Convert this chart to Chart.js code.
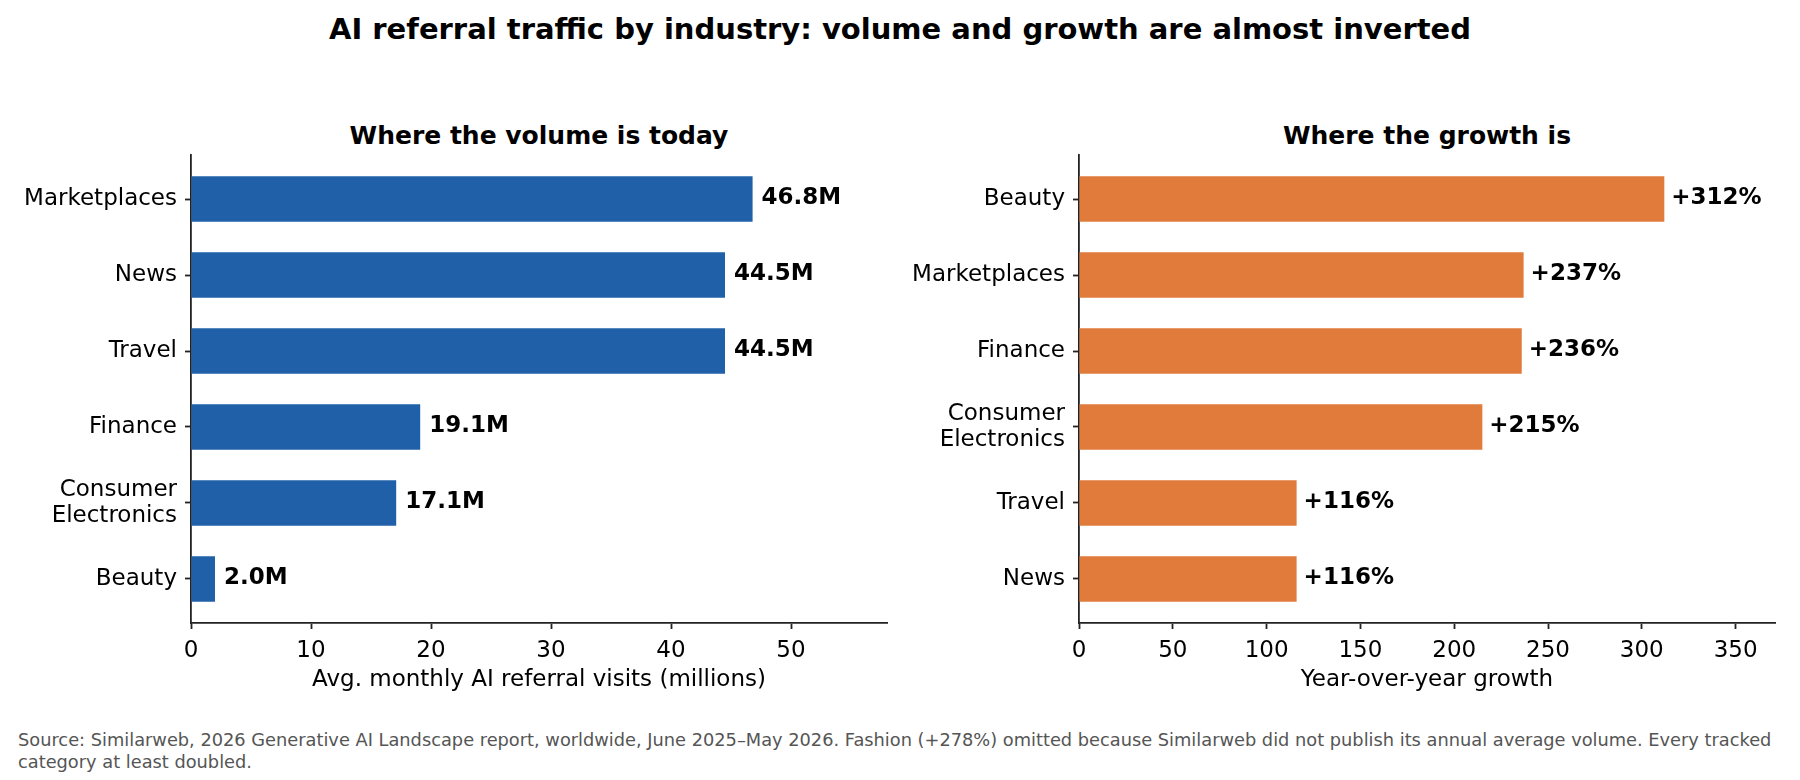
<!DOCTYPE html>
<html>
<head>
<meta charset="utf-8">
<script src="https://cdn.jsdelivr.net/npm/chart.js@4.4.1/dist/chart.umd.min.js"></script>
<style>
  body { margin: 0; width: 1800px; height: 780px; background: #fff; position: relative; overflow: hidden;
         font-family: 'DejaVu Sans', sans-serif; color: #000; }
  #title { position: absolute; left: 0; width: 1800px; top: 11px; line-height: 36px; text-align: center;
           font-size: 29px; font-weight: bold; }
  .sub { position: absolute; top: 121px; line-height: 30px; text-align: center; font-size: 25px; font-weight: bold; }
  .box { position: absolute; top: 140px; width: 900px; height: 560px; }
  #note { position: absolute; left: 18px; top: 729px; font-size: 17.8px; line-height: 21.5px; color: #555; white-space: nowrap; }
</style>
</head>
<body>
<div id="title">AI referral traffic by industry: volume and growth are almost inverted</div>
<div class="sub" style="left:191px;width:696px">Where the volume is today</div>
<div class="sub" style="left:1079px;width:696px">Where the growth is</div>
<div class="box" style="left:0"><canvas id="volume"></canvas></div>
<div class="box" style="left:900px"><canvas id="growth"></canvas></div>
<div id="note">Source: Similarweb, 2026 Generative AI Landscape report, worldwide, June 2025–May 2026. Fashion (+278%) omitted because Similarweb did not publish its annual average volume. Every tracked<br>category at least doubled.</div>

<script>
// volume panel, top to bottom
const volumeLabels = ['Marketplaces', 'News', 'Travel', 'Finance', ['Consumer', 'Electronics'], 'Beauty'];
const volumeValues = [46.8, 44.5, 44.5, 19.1, 17.1, 2.0];

// growth panel, top to bottom (% year over year)
const growthLabels = ['Beauty', 'Marketplaces', 'Finance', ['Consumer', 'Electronics'], 'Travel', 'News'];
const growthValues = [312, 237, 236, 215, 116, 116];

const volumeTicks = [0, 10, 20, 30, 40, 50];
const growthTicks = [0, 50, 100, 150, 200, 250, 300, 350];

const FONT = 'DejaVu Sans';
const AXIS = '#222';

// writes the value just past the end of each bar
const barLabels = {
    id: 'barLabels',
    afterDatasetsDraw(chart, args, opts) {
        const c = chart.ctx;
        const meta = chart.getDatasetMeta(0);
        c.save();
        c.font = 'bold 23px "' + FONT + '"';
        c.fillStyle = '#000';
        c.textAlign = 'left';
        c.textBaseline = 'middle';
        meta.data.forEach((bar, i) => {
            const v = chart.data.datasets[0].data[i].x;
            c.fillText(opts.fmt(v), bar.x + opts.gap, bar.y - 1);
        });
        c.restore();
    }
};

function makeChart(id, labels, values, color, max, ticks, axisTitle, fmt, yWidth, padRight, gap) {
    const tickLine = {
        display: true,
        drawOnChartArea: false,
        drawTicks: true,
        tickLength: 6,
        tickWidth: 1.8,
        tickColor: AXIS,
        offset: false
    };
    return new Chart(document.getElementById(id), {
        type: 'bar',
        data: {
            datasets: [{
                data: values.map((v, i) => ({ x: v, y: i })),
                backgroundColor: color,
                borderWidth: 0,
                barPercentage: 0.6,
                categoryPercentage: 1
            }]
        },
        plugins: [barLabels],
        options: {
            indexAxis: 'y',
            animation: false,
            responsive: true,
            maintainAspectRatio: false,
            layout: { padding: { top: 15, right: padRight, bottom: 0, left: 0 } },
            plugins: {
                legend: { display: false },
                tooltip: { enabled: false },
                barLabels: { fmt: fmt, gap: gap }
            },
            scales: {
                x: {
                    type: 'linear',
                    min: 0,
                    max: max,
                    afterBuildTicks: s => { s.ticks = ticks.map(v => ({ value: v })); },
                    afterFit: s => { s.height = 77; s.paddingLeft = 0; s.paddingRight = 0; },
                    ticks: { font: { family: FONT, size: 23 }, color: '#000', padding: 8 },
                    grid: tickLine,
                    border: { display: true, color: AXIS, width: 1.8 },
                    title: {
                        display: true,
                        text: axisTitle,
                        font: { family: FONT, size: 23 },
                        color: '#000',
                        padding: { top: 0, bottom: 6 }
                    }
                },
                y: {
                    type: 'linear',
                    reverse: true,
                    min: -0.58,
                    max: 5.58,
                    offset: false,
                    afterBuildTicks: s => { s.ticks = labels.map((_, i) => ({ value: i })); },
                    afterFit: s => { s.width = yWidth; s.paddingTop = 0; s.paddingBottom = 0; },
                    ticks: {
                        autoSkip: false,
                        callback: v => labels[v],
                        font: { family: FONT, size: 23, lineHeight: 1.1 },
                        color: '#000',
                        padding: 8
                    },
                    grid: tickLine,
                    border: { display: true, color: AXIS, width: 1.8 }
                }
            }
        }
    });
}

makeChart('volume', volumeLabels, volumeValues, '#1f60a8', 58.0, volumeTicks,
    'Avg. monthly AI referral visits (millions)', v => v.toFixed(1) + 'M', 191, 13, 9);
makeChart('growth', growthLabels, growthValues, '#e07b3c', 371, growthTicks,
    'Year-over-year growth', v => '+' + v + '%', 179, 25, 7);
</script>
</body>
</html>
